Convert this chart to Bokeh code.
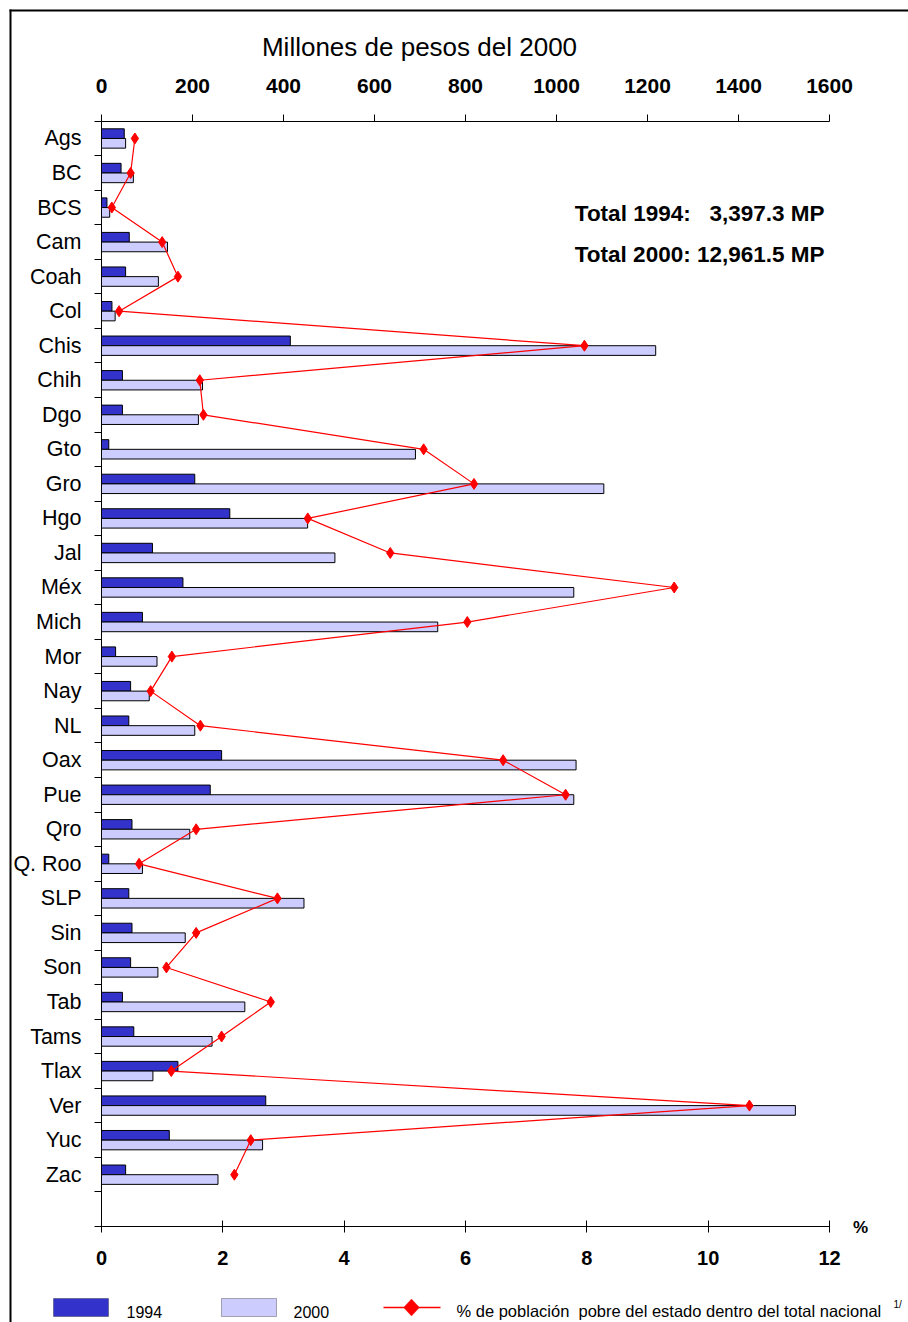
from bokeh.plotting import figure
from bokeh.models import (Range1d, LinearAxis, FixedTicker, Label, BoxAnnotation,
                          PolyAnnotation, ColumnDataSource)
from bokeh.transform import dodge
from bokeh.embed import file_html
from bokeh.resources import INLINE

# ---------------- data ----------------
states = ["Ags", "BC", "BCS", "Cam", "Coah", "Col", "Chis", "Chih", "Dgo", "Gto",
          "Gro", "Hgo", "Jal", "Méx", "Mich", "Mor", "Nay", "NL", "Oax", "Pue",
          "Qro", "Q. Roo", "SLP", "Sin", "Son", "Tab", "Tams", "Tlax", "Ver", "Yuc", "Zac"]
v1994 = [50, 43, 12, 61, 53, 23, 415, 46, 46, 16,
         205, 282, 112, 179, 90, 31, 64, 60, 264, 239,
         67, 16, 60, 67, 64, 46, 71, 168, 361, 149, 53]
v2000 = [53, 70, 18, 145, 125, 30, 1218, 222, 213, 690,
         1104, 453, 513, 1038, 739, 122, 105, 205, 1043, 1038,
         194, 90, 445, 184, 124, 315, 243, 113, 1525, 354, 256]
pct_pobre = [0.55, 0.48, 0.17, 1.00, 1.26, 0.29, 7.96, 1.62, 1.68, 5.31,
             6.14, 3.40, 4.76, 9.44, 6.03, 1.16, 0.81, 1.63, 6.62, 7.65,
             1.56, 0.62, 2.90, 1.56, 1.07, 2.79, 1.98, 1.15, 10.68, 2.46, 2.19]
money_ticks = [0, 200, 400, 600, 800, 1000, 1200, 1400, 1600]
pct_ticks = [0, 2, 4, 6, 8, 10, 12]
title_text = "Millones de pesos del 2000"
total_1994 = "Total 1994:\u00a0\u00a0 3,397.3 MP"
total_2000 = "Total 2000: 12,961.5 MP"
legend_labels = ["1994", "2000", "% de población\u00a0 pobre del estado dentro del total nacional"]
note_text = "1/"
pct_unit = "%"

COL_1994 = "#3333CC"
COL_2000 = "#CCCCFF"
COL_LINE = "#FF0000"
FONT = "Liberation Sans"

# ---------------- geometry (canvas px; the plot frame covers the whole canvas) ----------------
W, H = 908, 1322
AX_LEFT, AX_RIGHT = 101, 829      # where 0 and the last tick of both horizontal axes sit
AX_TOP, AX_BOTTOM = 120.7, 1226   # top and bottom value axes

n_slots = len(states) + 1         # one empty slot below the last state
slot_px = (AX_BOTTOM - AX_TOP) / n_slots
px_per_money = (AX_RIGHT - AX_LEFT) / money_ticks[-1]
px_per_pct = (AX_RIGHT - AX_LEFT) / pct_ticks[-1]

x_money = Range1d(-AX_LEFT / px_per_money, (W - AX_LEFT) / px_per_money)
x_pct = Range1d(-AX_LEFT / px_per_pct, (W - AX_LEFT) / px_per_pct)
y_top_val, y_bot_val = 0.5, n_slots + 0.5
y_rng = Range1d(y_bot_val + (H - AX_BOTTOM) / slot_px, y_top_val - AX_TOP / slot_px)

ys = list(range(1, len(states) + 1))
boundaries = [i + 0.5 for i in range(0, n_slots + 1)]

src = ColumnDataSource(dict(y=ys, state=states, v1994=v1994, v2000=v2000, pct=pct_pobre))

p = figure(width=W, height=H, output_backend="svg", toolbar_location=None,
           x_range=x_money, y_range=y_rng,
           x_axis_location=None, y_axis_location=None,
           min_border=0, min_border_left=0, min_border_right=0,
           min_border_top=0, min_border_bottom=0)
p.extra_x_ranges = {"pct": x_pct}
p.outline_line_color = None
p.grid.grid_line_color = None
p.title.visible = False
p.background_fill_color = "white"
p.border_fill_color = "white"

# top axis (money)
top_ax = LinearAxis(ticker=FixedTicker(ticks=money_ticks), fixed_location=y_top_val,
                    bounds=(money_ticks[0], money_ticks[-1]))
top_ax.major_tick_out = 7
top_ax.major_tick_in = 0
top_ax.minor_tick_line_color = None
top_ax.axis_line_color = "black"
top_ax.major_tick_line_color = "black"
top_ax.major_label_text_font = FONT
top_ax.major_label_text_font_style = "bold"
top_ax.major_label_text_font_size = "21px"
top_ax.major_label_text_color = "black"
top_ax.major_label_standoff = 21
p.add_layout(top_ax, "above")

# bottom axis (percent)
bot_ax = LinearAxis(x_range_name="pct", ticker=FixedTicker(ticks=pct_ticks),
                    fixed_location=y_bot_val, bounds=(pct_ticks[0], pct_ticks[-1]))
bot_ax.major_tick_out = 6
bot_ax.major_tick_in = 6
bot_ax.minor_tick_line_color = None
bot_ax.axis_line_color = "black"
bot_ax.major_tick_line_color = "black"
bot_ax.major_label_text_font = FONT
bot_ax.major_label_text_font_style = "bold"
bot_ax.major_label_text_font_size = "20px"
bot_ax.major_label_text_color = "black"
bot_ax.major_label_standoff = 18
p.add_layout(bot_ax, "below")

# left category axis
left_ax = LinearAxis(ticker=FixedTicker(ticks=ys, minor_ticks=boundaries), fixed_location=0,
                     bounds=(y_top_val, y_bot_val))
left_ax.major_label_overrides = {y: s for y, s in zip(ys, states)}
left_ax.major_tick_in = 0
left_ax.major_tick_out = 0
left_ax.major_tick_line_color = None
left_ax.minor_tick_in = 0
left_ax.minor_tick_out = 7
left_ax.minor_tick_line_color = "black"
left_ax.axis_line_color = "black"
left_ax.major_label_text_font = FONT
left_ax.major_label_text_font_size = "21.5px"
left_ax.major_label_text_color = "black"
left_ax.major_label_standoff = 13
p.add_layout(left_ax, "left")

# bars
p.hbar(y=dodge("y", -0.14), height=0.28, left=0, right="v1994", source=src,
       fill_color=COL_1994, line_color="black", line_width=1)
p.hbar(y=dodge("y", 0.14), height=0.28, left=0, right="v2000", source=src,
       fill_color=COL_2000, line_color="black", line_width=1)

# percent line with diamonds
p.line(x="pct", y="y", x_range_name="pct", source=src, line_color=COL_LINE, line_width=1.2)
p.scatter(x="pct", y="y", x_range_name="pct", source=src, marker="diamond", size=11,
          fill_color=COL_LINE, line_color=COL_LINE)


# ---------------- decorations (screen px, frame == canvas) ----------------
def sy(py):
    return H - py


def box(l, r, t, b, fill, line=None, lw=1):
    p.add_layout(BoxAnnotation(left=l, right=r, top=sy(t), bottom=sy(b),
                               left_units="screen", right_units="screen",
                               top_units="screen", bottom_units="screen",
                               fill_color=fill, fill_alpha=1,
                               line_color=line, line_width=lw))


def lab(text, x, y, size, bold=False, align="left", baseline="middle"):
    p.add_layout(Label(x=x, y=sy(y), x_units="screen", y_units="screen", text=text,
                       text_font=FONT, text_font_size=size,
                       text_font_style="bold" if bold else "normal",
                       text_align=align, text_baseline=baseline, text_color="black"))


# outer frame lines (left and top)
box(9, 11, 9, H + 5, "black")
box(9, W + 5, 9, 11, "black")

lab(title_text, 419, 46.5, "26px", align="center", baseline="alphabetic")
lab(total_1994, 824, 213, "22.5px", bold=True, align="right", baseline="alphabetic")
lab(total_2000, 824, 254, "22.5px", bold=True, align="right", baseline="alphabetic")
lab(pct_unit, 860, 1227, "17px", bold=True, align="center")

# legend
box(53, 108, 1298, 1316, COL_1994, "black")
box(221, 276, 1298, 1316, COL_2000, "black")
box(383, 440, 1306.3, 1307.8, COL_LINE)
p.add_layout(PolyAnnotation(xs=[403, 411, 419, 411],
                            ys=[sy(1307), sy(1298.5), sy(1307), sy(1315.5)],
                            xs_units="screen", ys_units="screen",
                            fill_color=COL_LINE, fill_alpha=1, line_color=COL_LINE))
lab(legend_labels[0], 126, 1311, "16px")
lab(legend_labels[1], 293, 1311, "16px")
lab(legend_labels[2], 456, 1310, "16.5px")
lab(note_text, 893, 1304, "10px")

open("out.html", "w").write(file_html(p, INLINE))
